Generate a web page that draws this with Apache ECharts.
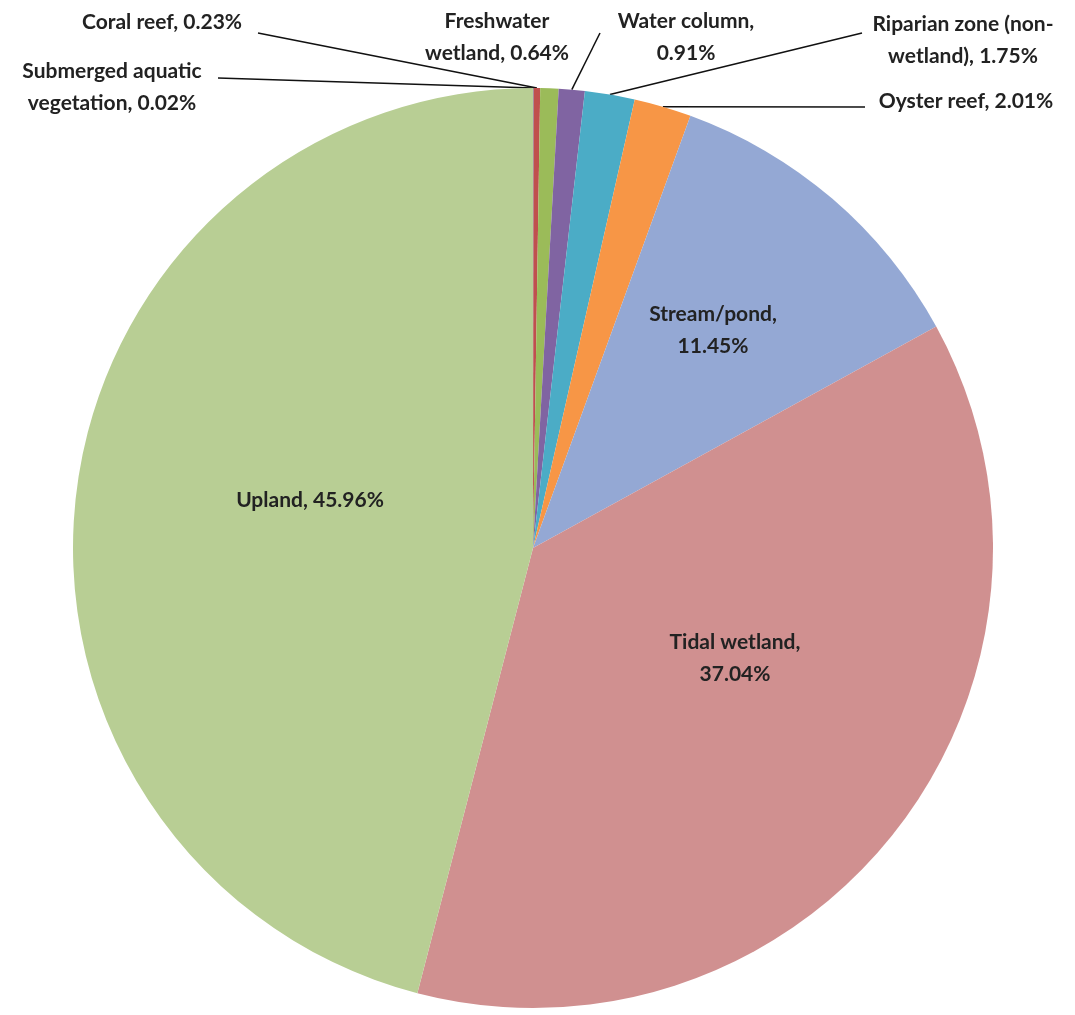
<!DOCTYPE html>
<html>
<head>
<meta charset="utf-8">
<script src="https://cdn.jsdelivr.net/npm/echarts@6/dist/echarts.min.js"></script>
<style>
    html, body {margin: 0; padding: 0; background: #fff;}
    #main {width: 1075px; height: 1015px;}
</style>
</head>
<body>
<div id="main"></div>
<script>
// 数据
let categories = ['Submerged aquatic vegetation', 'Coral reef', 'Freshwater wetland', 'Water column',
    'Riparian zone (non-wetland)', 'Oyster reef', 'Stream/pond', 'Tidal wetland', 'Upland'];
let values = [0.02, 0.23, 0.64, 0.91, 1.75, 2.01, 11.45, 37.04, 45.96];
let labelTexts = ['Submerged aquatic\nvegetation, 0.02%', 'Coral reef, 0.23%', 'Freshwater\nwetland, 0.64%',
    'Water column,\n0.91%', 'Riparian zone (non-\nwetland), 1.75%', 'Oyster reef, 2.01%',
    'Stream/pond,\n11.45%', 'Tidal wetland,\n37.04%', 'Upland, 45.96%'];
let colors = ['#4F81BD', '#C0504D', '#9BBB59', '#8064A2', '#4BACC6', '#F79646', '#94A8D4', '#D09090', '#B8CE94'];

// 标签位置 (x, y, 引线终点)
let labelPos = [
    {x: 112, y: 87, line: [218, 78]},
    {x: 162, y: 22, line: [258, 33]},
    {x: 497, y: 37, line: null},
    {x: 686, y: 37, line: [600, 33]},
    {x: 963, y: 40, line: [862, 33]},
    {x: 966, y: 101, line: [865, 107]},
    {x: 713, y: 330},
    {x: 735, y: 658},
    {x: 310, y: 500}
];

let myChart = echarts.init(document.getElementById('main'));
let pieData = [];
for (let i = 0; i < categories.length; i++) {
    let inside = i >= 6;
    pieData.push({
        name: categories[i],
        value: values[i],
        itemStyle: {color: colors[i]},
        label: {position: inside ? 'inside' : 'outside'},
        labelLine: {show: !inside && labelPos[i].line !== null}
    });
}

let option = {
    animation: false,
    series: [
        {
            type: 'pie',
            center: [533, 548],
            radius: 460,
            startAngle: 90,
            clockwise: true,
            avoidLabelOverlap: false,
            itemStyle: {borderWidth: 0},
            label: {
                formatter: function (p) {
                    return labelTexts[p.dataIndex];
                },
                fontFamily: 'Lato',
                fontWeight: 'bold',
                fontSize: 21,
                lineHeight: 32,
                color: '#222',
                align: 'center'
            },
            labelLine: {
                length: 10,
                length2: 10,
                lineStyle: {color: '#111', width: 1.5}
            },
            labelLayout: function (params) {
                let pos = labelPos[params.dataIndex];
                let res = {x: pos.x, y: pos.y, align: 'center', verticalAlign: 'middle'};
                if (pos.line && params.labelLinePoints) {
                    res.labelLinePoints = [params.labelLinePoints[0], pos.line];
                }
                return res;
            },
            data: pieData
        }
    ]
};
myChart.setOption(option);
</script>
</body>
</html>
